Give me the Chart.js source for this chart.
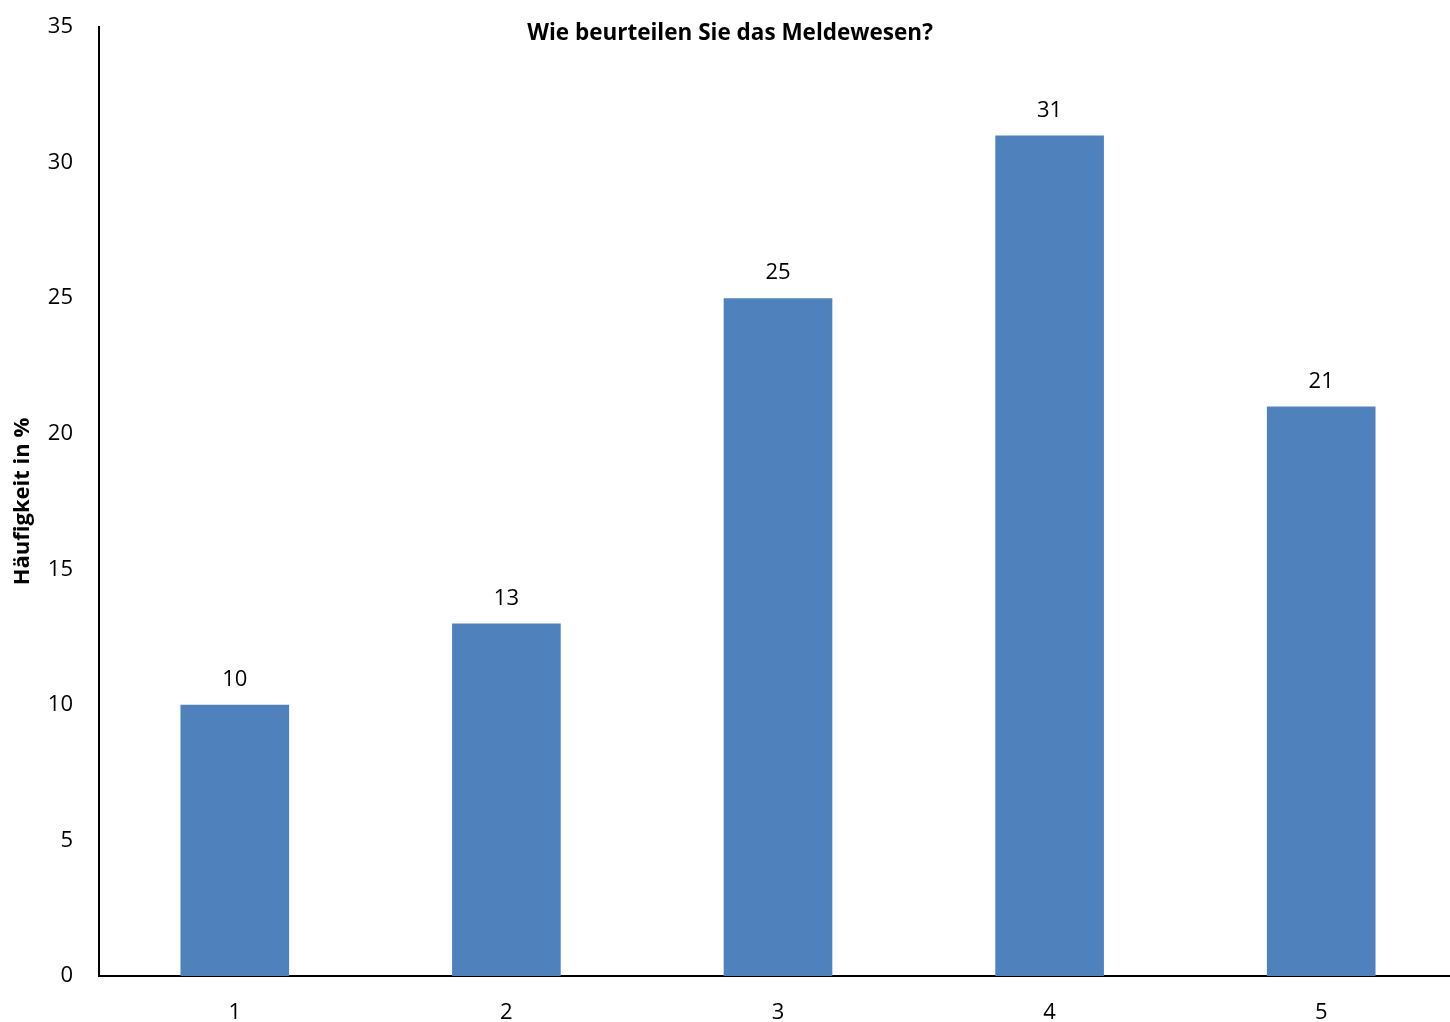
<!DOCTYPE html>
<html lang="de">
<head>
<meta charset="utf-8">
<title>Wie beurteilen Sie das Meldewesen?</title>
<script src="https://cdn.jsdelivr.net/npm/chart.js@4.4.1/dist/chart.umd.min.js"></script>
<style>
  html, body { margin: 0; padding: 0; background: #fff; overflow: hidden; }
  /* plot runs a few pixels past the right edge of the page */
  #wrap { width: 1457px; height: 1022px; position: relative; }
</style>
</head>
<body>
<div id="wrap"><canvas id="chart"></canvas></div>
<script>
'use strict';

// ── Data ──────────────────────────────────────────────────────
const categories = ['1', '2', '3', '4', '5'];
const shares     = [10, 13, 25, 31, 21];
const yTicks     = [0, 5, 10, 15, 20, 25, 30, 35];

const TITLE     = 'Wie beurteilen Sie das Meldewesen?';
const AXIS_NAME = 'Häufigkeit in %';
const FONT      = "'Open Sans', 'Noto Sans', sans-serif";
const BAR_BLUE  = '#4f81bd';

// ── Plugins ───────────────────────────────────────────────────
// Title sits inside the plot area, so draw it by hand
const titlePlugin = {
  id: 'innerTitle',
  afterDraw(chart) {
    const { ctx } = chart;
    ctx.save();
    ctx.font = `bold 22.5px ${FONT}`;
    ctx.fillStyle = '#000';
    ctx.textAlign = 'center';
    ctx.textBaseline = 'middle';
    ctx.fillText(TITLE, 730, 34);
    ctx.restore();
  }
};

// Value labels above each bar
const valueLabels = {
  id: 'valueLabels',
  afterDatasetsDraw(chart) {
    const { ctx } = chart;
    const meta = chart.getDatasetMeta(0);
    ctx.save();
    ctx.font = `22px ${FONT}`;
    ctx.fillStyle = '#000';
    ctx.textAlign = 'center';
    ctx.textBaseline = 'bottom';
    meta.data.forEach((bar, i) => {
      ctx.fillText(String(shares[i]), bar.x, bar.y - 14);
    });
    ctx.restore();
  }
};

// ── Chart ─────────────────────────────────────────────────────
new Chart(document.getElementById('chart'), {
  type: 'bar',
  data: {
    labels: categories,
    datasets: [{
      data: shares,
      backgroundColor: BAR_BLUE,
      borderWidth: 0,
      categoryPercentage: 1.0,
      barPercentage: 0.4
    }]
  },
  options: {
    responsive: true,
    maintainAspectRatio: false,
    animation: false,
    layout: { padding: { top: 27, right: 0, bottom: 0, left: 0 } },
    plugins: { legend: { display: false }, tooltip: { enabled: false }, title: { display: false } },
    scales: {
      x: {
        grid: { display: false, drawTicks: false },
        border: { display: true, color: '#000', width: 2 },
        ticks: { color: '#000', padding: 24, font: { family: FONT, size: 22 } },
        afterFit: s => {
          s.height = 1022 - 976;
          s.paddingLeft = 0;
          s.paddingRight = 0;
        }
      },
      y: {
        min: 0,
        max: 35,
        afterBuildTicks: s => { s.ticks = yTicks.map(v => ({ value: v })); },
        grid: { display: false, drawTicks: false },
        border: { display: true, color: '#000', width: 2 },
        ticks: { color: '#000', padding: 26, font: { family: FONT, size: 22 } },
        title: {
          display: true,
          text: AXIS_NAME,
          color: '#000',
          padding: { top: 10, bottom: 0 },
          font: { family: FONT, size: 22, weight: 'bold' }
        },
        afterFit: s => {
          s.width = 99;
          s.paddingTop = 0;
          s.paddingBottom = 0;
        }
      }
    }
  },
  plugins: [titlePlugin, valueLabels]
});
</script>
</body>
</html>
